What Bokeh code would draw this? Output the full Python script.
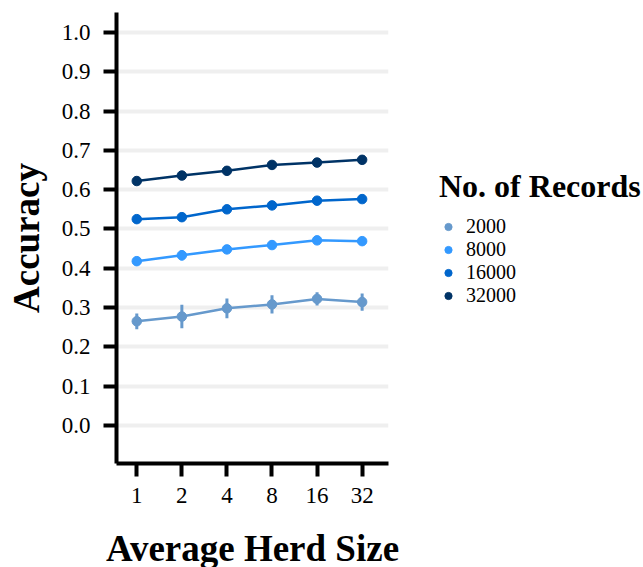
import numpy as np
from bokeh.plotting import figure
from bokeh.models import Range1d, FixedTicker, Legend, LegendItem
from bokeh.embed import file_html
from bokeh.resources import INLINE

herd_sizes = ["1", "2", "4", "8", "16", "32"]
records = ["2000", "8000", "16000", "32000"]
colors = ["#6699CC", "#3399FF", "#0066CC", "#003366"]

acc_2000 = [0.265, 0.277, 0.298, 0.308, 0.322, 0.314]
acc_8000 = [0.418, 0.433, 0.448, 0.459, 0.471, 0.469]
acc_16000 = [0.525, 0.530, 0.550, 0.560, 0.572, 0.576]
acc_32000 = [0.622, 0.636, 0.648, 0.663, 0.669, 0.676]

err_2000 = [0.020, 0.030, 0.025, 0.023, 0.017, 0.022]
err_8000 = [0.011, 0.013, 0.006, 0.005, 0.007, 0.009]
err_16000 = [0.004, 0.011, 0.004, 0.003, 0.004, 0.004]
err_32000 = [0.002, 0.002, 0.002, 0.002, 0.002, 0.002]

y_ticks = [0.0, 0.1, 0.2, 0.3, 0.4, 0.5, 0.6, 0.7, 0.8, 0.9, 1.0]

series = [acc_2000, acc_8000, acc_16000, acc_32000]
errors = [err_2000, err_8000, err_16000, err_32000]

FONT = "Liberation Serif"

p = figure(width=635, height=567, output_backend="svg", toolbar_location=None,
           x_range=Range1d(0.55, 6.585), y_range=Range1d(-0.097, 1.051),
           min_border_left=116, min_border_right=247, min_border_top=12, min_border_bottom=104,
           frame_width=272, frame_height=451)
p.outline_line_color = None
p.background_fill_color = "white"

x = np.arange(1, len(herd_sizes) + 1)
legend_items = []
for lab, col, ys, es in zip(records, colors, series, errors):
    ys = np.array(ys)
    es = np.array(es)
    p.segment(x0=x, y0=ys - es, x1=x, y1=ys + es, line_color=col, line_width=3)
    p.line(x, ys, line_color=col, line_width=2.5)
    r = p.scatter(x, ys, size=9.5, fill_color=col, line_color=col)
    legend_items.append(LegendItem(label=lab, renderers=[r]))

# axes
p.xaxis.ticker = FixedTicker(ticks=list(x))
p.xaxis.major_label_overrides = {int(i): s for i, s in zip(x, herd_sizes)}
p.yaxis.ticker = FixedTicker(ticks=y_ticks)
p.yaxis.major_label_overrides = {t: f"{t:.1f}" for t in y_ticks}

for ax in (p.xaxis[0], p.yaxis[0]):
    ax.axis_line_width = 4
    ax.axis_line_color = "black"
    ax.major_tick_line_width = 4
    ax.major_tick_line_color = "black"
    ax.major_tick_out = 13
    ax.major_tick_in = 0
    ax.minor_tick_line_color = None
    ax.major_label_text_font = FONT
    ax.major_label_text_font_size = "23px"
    ax.major_label_text_color = "black"
    ax.axis_label_text_font = FONT
    ax.axis_label_text_font_size = "37px"
    ax.axis_label_text_font_style = "bold"
    ax.axis_label_text_color = "black"

p.xaxis.axis_label = "Average Herd Size"
p.yaxis.axis_label = "Accuracy"
p.yaxis.major_label_standoff = 13
p.xaxis.major_label_standoff = 11
p.yaxis.axis_label_standoff = 12
p.xaxis.axis_label_standoff = 22

p.xgrid.grid_line_color = None
p.ygrid.grid_line_color = "#EFEFEF"
p.ygrid.grid_line_width = 4

legend = Legend(items=legend_items, location=(51, 156), title="No. of Records")
legend.title_text_font = FONT
legend.title_text_font_size = "32px"
legend.title_text_font_style = "bold"
legend.title_text_color = "black"
legend.title_standoff = 10
legend.label_text_font = FONT
legend.label_text_font_size = "20px"
legend.label_text_color = "black"
legend.glyph_width = 18
legend.glyph_height = 21
legend.label_height = 21
legend.label_standoff = 9
legend.spacing = 0
legend.padding = 0
legend.margin = 0
legend.border_line_color = None
legend.background_fill_color = None
p.add_layout(legend, "right")

open("out.html", "w").write(file_html(p, INLINE))
